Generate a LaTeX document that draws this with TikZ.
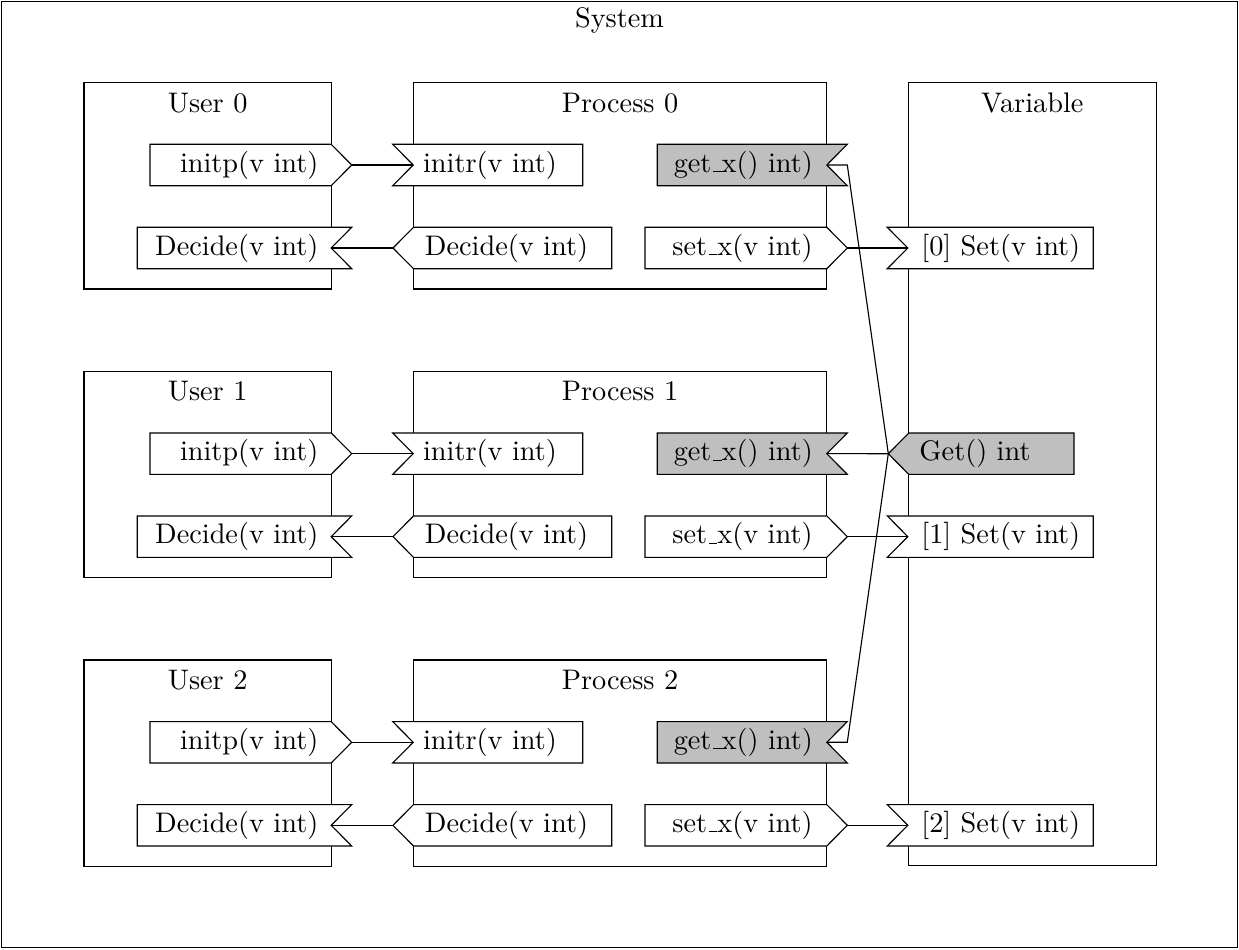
\documentclass[tikz,border=0pt]{standalone}
\usepackage{tikz}
\newcommand\lowbar{\leavevmode\kern.06em\vbox{\hrule width.3em}}
\newcommand\portOutR[7]{% flat left, point right: name, L, R, Y, textx, text, fill
  \filldraw[port,fill=#7] (#2,#4-20.7) -- ({#3-20.5},#4-20.7) -- (#3,#4) -- ({#3-20.5},#4+20.7) -- (#2,#4+20.7) -- cycle;
  \node[porttext] (#1) at (#5,#4) {#6};
  \coordinate (#1-c) at (#3,#4);
  \coordinate (#1-o) at (#3,#4);}
\newcommand\portInR[7]{% flat left, notch right
  \filldraw[port,fill=#7] (#2,#4-20.7) -- (#3,#4-20.7) -- ({#3-20.5},#4) -- (#3,#4+20.7) -- (#2,#4+20.7) -- cycle;
  \node[porttext] (#1) at (#5,#4) {#6};
  \coordinate (#1-c) at ({#3-20.5},#4);
  \coordinate (#1-o) at (#3,#4);}
\newcommand\portInL[7]{% notch left, flat right
  \filldraw[port,fill=#7] (#2,#4-20.7) -- (#3,#4-20.7) -- (#3,#4+20.7) -- (#2,#4+20.7) -- ({#2+20.5},#4) -- cycle;
  \node[porttext] (#1) at (#5,#4) {#6};
  \coordinate (#1-c) at ({#2+20.5},#4);}
\newcommand\portOutL[7]{% point left, flat right
  \filldraw[port,fill=#7] ({#2+20.5},#4-20.7) -- (#3,#4-20.7) -- (#3,#4+20.7) -- ({#2+20.5},#4+20.7) -- (#2,#4) -- cycle;
  \node[porttext] (#1) at (#5,#4) {#6};
  \coordinate (#1-c) at (#2,#4);}
\tikzset{
  port/.style={draw=black, line width=0.4pt, line join=miter},
  porttext/.style={inner sep=0pt, anchor=center},
  compbox/.style={draw=black, line width=0.4pt},
  title/.style={inner sep=0pt, anchor=center},
  conn/.style={draw=black, line width=0.4pt},
}
\begin{document}
\begin{tikzpicture}[x=0.3534pt, y=-0.3534pt]
\useasboundingbox (0,0) rectangle (1239,949);
\draw[compbox] (1.5,1.5) rectangle (1237.5,947.5);
\node[title] (systitle) at (619.5,20) {System};
% variable box
\draw[compbox] (908.3,82.7) rectangle (1156.3,865.7);
\node[title] (vartitle) at (1032.3,103) {Variable};
\foreach \k in {0,1,2}{
  \pgfmathsetmacro\T{82.7+288.65*\k}
  \pgfmathsetmacro\B{\T+206.3}
  \pgfmathsetmacro\ra{\T+82.3}
  \pgfmathsetmacro\rb{\T+165.3}
  \draw[compbox] (84,\T) rectangle (331.3,\B);
  \draw[compbox] (413.3,\T) rectangle (826.7,\B);
  \node[title] (ut\k) at (207.6,{\T+20}) {User \k};
  \node[title] (pt\k) at (620,{\T+20}) {Process \k};
  \portOutR{ui\k}{150}{351.7}{\ra}{249.2}{initp(v int)}{white}
  \portInR{ud\k}{137.3}{351.7}{\rb}{236.7}{Decide(v int)}{white}
  \portInL{pi\k}{392.7}{582.7}{\ra}{490}{initr(v int)}{white}
  \portOutL{pd\k}{393}{611.7}{\rb}{506.5}{Decide(v int)}{white}
  \portInR{pg\k}{657.3}{847.3}{\ra}{743.3}{get\lowbar x() int)}{lightgray}
  \portOutR{ps\k}{645}{847.3}{\rb}{742.5}{set\lowbar x(v int)}{white}
  \portInL{vs\k}{887.3}{1093.3}{\rb}{1000.8}{[\k] Set(v int)}{white}
}
\portOutL{vg}{888.3}{1074}{453.7}{975}{Get() int}{lightgray}
\foreach \k in {0,1,2}{
  \draw[conn] (ui\k-c) -- (pi\k-c);
  \draw[conn] (pd\k-c) -- (ud\k-c);
  \draw[conn] (ps\k-c) -- (vs\k-c);
  \draw[conn] (pg\k-c) -- (pg\k-o) -- (vg-c);
}
\end{tikzpicture}
\end{document}
